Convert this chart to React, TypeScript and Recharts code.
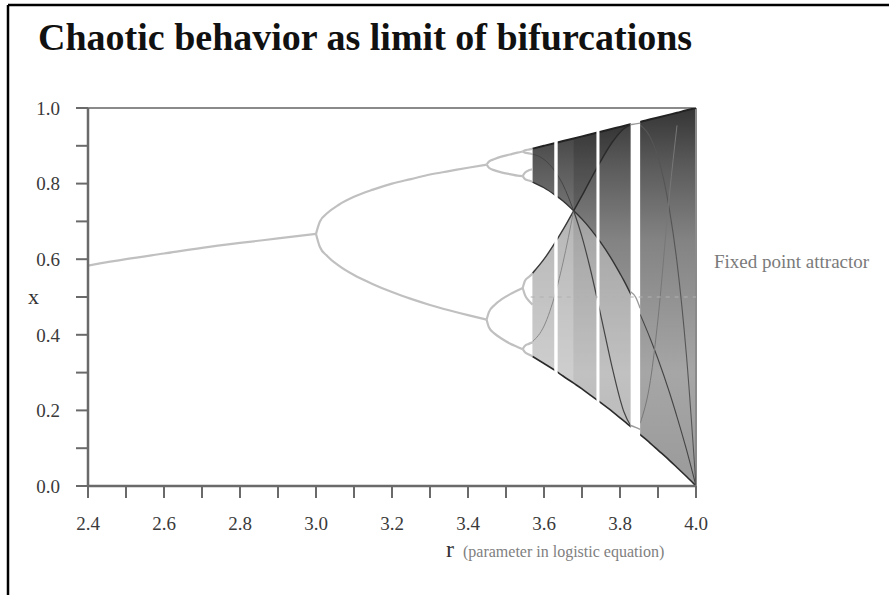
import React from 'react';
import { ComposedChart, Line, Area, XAxis, YAxis, ReferenceLine } from 'recharts';

const SERIF = '"Liberation Serif", "Times New Roman", serif';

// axis ticks (labels only on every second one)
const rTicks = [2.4, 2.5, 2.6, 2.7, 2.8, 2.9, 3.0, 3.1, 3.2, 3.3, 3.4, 3.5, 3.6, 3.7, 3.8, 3.9, 4.0];
const xTicks = [0, 0.1, 0.2, 0.3, 0.4, 0.5, 0.6, 0.7, 0.8, 0.9, 1.0];

// stable fixed point
const p1R = [2.4, 2.5, 2.6, 2.7, 2.8, 2.9, 3.0];
const p1X = [0.583, 0.6, 0.615, 0.63, 0.643, 0.655, 0.667];

// period 2
const p2R = [3.0, 3.01, 3.03, 3.06, 3.1, 3.15, 3.2, 3.25, 3.3, 3.35, 3.4, 3.449];
const p2Hi = [0.667, 0.699, 0.722, 0.744, 0.765, 0.784, 0.8, 0.812, 0.824, 0.833, 0.842, 0.85];
const p2Lo = [0.667, 0.633, 0.608, 0.583, 0.558, 0.534, 0.513, 0.495, 0.479, 0.465, 0.452, 0.44];

// period 4
const p4R = [3.449, 3.455, 3.47, 3.49, 3.51, 3.53, 3.544];
const p4A = [0.85, 0.858, 0.865, 0.872, 0.877, 0.882, 0.885];
const p4B = [0.85, 0.842, 0.835, 0.829, 0.825, 0.821, 0.82];
const p4C = [0.44, 0.46, 0.479, 0.495, 0.507, 0.517, 0.524];
const p4D = [0.44, 0.42, 0.403, 0.389, 0.377, 0.368, 0.362];

// period 8
const p8R = [3.544, 3.55, 3.56, 3.57];
const p8 = [
  [0.885, 0.888, 0.89, 0.892], [0.885, 0.882, 0.88, 0.878],
  [0.82, 0.829, 0.835, 0.838], [0.82, 0.812, 0.808, 0.805],
  [0.524, 0.543, 0.553, 0.562], [0.524, 0.505, 0.49, 0.48],
  [0.362, 0.371, 0.376, 0.38], [0.362, 0.354, 0.348, 0.343],
];

// chaotic region envelope
const envR = [3.57, 3.6, 3.63, 3.65, 3.678, 3.7, 3.72, 3.75, 3.78, 3.8, 3.81, 3.83, 3.853, 3.88, 3.9, 3.93, 3.95, 3.975, 4.0];
const envTop = [0.8925, 0.9, 0.9075, 0.9125, 0.9195, 0.925, 0.93, 0.9375, 0.945, 0.95, 0.9525, 0.9575, 0.963, 0.97, 0.975, 0.9825, 0.9875, 0.994, 1.0];
const envBot = [0.3425, 0.324, 0.305, 0.291, 0.272, 0.257, 0.242, 0.22, 0.197, 0.1805, 0.172, 0.156, 0.136, 0.113, 0.095, 0.068, 0.049, 0.025, 0];

// two-band part, before the bands merge
const earlyR = [3.57, 3.6, 3.63, 3.65, 3.678];
const earlyBot = [0.3425, 0.324, 0.305, 0.291, 0.272];
const earlyIn = [0.563, 0.6, 0.645, 0.678, 0.728]; // top of lower band
const earlyOut = [0.804, 0.789, 0.769, 0.754, 0.728]; // bottom of upper band
const earlyC5 = [0.878, 0.864, 0.831, 0.797, 0.728];
const earlyC6 = [0.382, 0.423, 0.51, 0.591, 0.728];
// white gap between the two bands (starts a hair left of the chaos edge)
const gapR = [3.566, 3.6, 3.63, 3.65, 3.678];

// merged band up to the period-3 window
const midR = [3.678, 3.7, 3.72, 3.75, 3.78, 3.8, 3.81, 3.83];
const midTop = [0.9195, 0.925, 0.93, 0.9375, 0.945, 0.95, 0.9525, 0.9575];
const midBot = [0.272, 0.257, 0.242, 0.22, 0.197, 0.1805, 0.172, 0.156];
const midC3 = [0.728, 0.706, 0.683, 0.643, 0.597, 0.562, 0.544, 0.504];
const midC4 = [0.728, 0.768, 0.806, 0.861, 0.91, 0.935, 0.945, 0.957];
const midC5 = [0.728, 0.659, 0.582, 0.449, 0.311, 0.23, 0.197, 0.156];

// after the period-3 window
const lateR = [3.853, 3.88, 3.9, 3.93, 3.95, 3.975, 4.0];
const lateC3 = [0.454, 0.389, 0.336, 0.248, 0.183, 0.096, 0.0];
const lateC4 = [0.955, 0.922, 0.87, 0.732, 0.592, 0.344, 0.0];
const lateC5R = [3.853, 3.88, 3.9, 3.93, 3.95];
const lateC5 = [0.166, 0.279, 0.442, 0.77, 0.954];

// periodic windows (white stripes)
const windows = [[3.627, 3.636], [3.738, 3.746], [3.828, 3.853]];
const winLo = 0.12;
const winHi = 0.985;

// period 3 orbit inside the big window
const p3R = [3.828, 3.841, 3.853];
const p3 = [[0.956, 0.958, 0.96], [0.514, 0.5, 0.47], [0.16, 0.155, 0.15]];

// dashed line at x = 0.5
const dashR = [3.565, 4.0];
const dashX = [0.5, 0.5];

const pts = (rs: number[], xs: number[]) => rs.map((r, i) => ({ r, v: xs[i] }));
const band = (rs: number[], lo: number[], hi: number[]) => rs.map((r, i) => ({ r, v: [lo[i], hi[i]] }));

const stableLine = (data: any[], key: string) => (
  <Line key={key} data={data} dataKey="v" type="monotone" stroke="#c0c0c0" strokeWidth={2.2}
    dot={false} activeDot={false} isAnimationActive={false} />
);
const curve = (data: any[], key: string, color: string, w: number, z?: number) => (
  <Line key={key} data={data} dataKey="v" type="monotone" stroke={color} strokeWidth={w}
    dot={false} activeDot={false} isAnimationActive={false} zIndex={z} />
);

export default function App() {
  return (
    <div style={{ position: 'relative', width: 889, height: 595, background: '#fff' }}>
      <style>{'body{margin:0}'}</style>
      <ComposedChart width={889} height={595} margin={{ top: 108, right: 193, bottom: 79, left: 28 }}>
        <defs>
          <linearGradient id="chaosFill" x1="0" y1="0" x2="0" y2="1">
            <stop offset="0" stopColor="#353535" />
            <stop offset="0.15" stopColor="#5a5a5a" />
            <stop offset="0.35" stopColor="#838383" />
            <stop offset="0.7" stopColor="#a6a6a6" />
            <stop offset="1" stopColor="#9a9a9a" />
          </linearGradient>
        </defs>
        <XAxis type="number" dataKey="r" domain={[2.4, 4.0]} ticks={rTicks} interval={0} allowDataOverflow
          tickFormatter={(v: number, i: number) => (i % 2 === 0 ? v.toFixed(1) : '')}
          height={30} tickSize={12} tickMargin={19} stroke="#6a6a6a"
          axisLine={{ strokeWidth: 2.5 }} tickLine={{ strokeWidth: 2 }}
          tick={{ fill: '#3a3a3a', fontSize: 19, fontFamily: SERIF }} />
        <YAxis type="number" domain={[0, 1]} ticks={xTicks} interval={0} allowDataOverflow
          tickFormatter={(v: number, i: number) => (i % 2 === 0 ? v.toFixed(1) : '')}
          width={60} tickSize={12} tickMargin={16} stroke="#6a6a6a"
          axisLine={{ strokeWidth: 2.5 }} tickLine={{ strokeWidth: 2 }}
          tick={{ fill: '#3a3a3a', fontSize: 19, fontFamily: SERIF }} />
        <ReferenceLine y={1} stroke="#8a8a8a" strokeWidth={2} />
        <ReferenceLine x={4} stroke="#8a8a8a" strokeWidth={2} />

        {/* chaotic region shading */}
        <Area data={band(envR, envBot, envTop)} dataKey="v" type="monotone" stroke="none" fill="url(#chaosFill)"
          fillOpacity={1} isAnimationActive={false} activeDot={false} />
        <Area data={band(earlyR, earlyBot, earlyIn)} dataKey="v" type="monotone" stroke="none" fill="#fff"
          fillOpacity={0.45} isAnimationActive={false} activeDot={false} />
        <Area data={band(gapR, earlyIn, earlyOut)} dataKey="v" type="monotone" stroke="none" fill="#fff"
          fillOpacity={1} isAnimationActive={false} activeDot={false} />
        <Area data={band(midR, midBot, midC3)} dataKey="v" type="monotone" stroke="none" fill="#fff"
          fillOpacity={0.3} isAnimationActive={false} activeDot={false} />
        <Area data={band(midR, midC4, midTop)} dataKey="v" type="monotone" stroke="none" fill="#000"
          fillOpacity={0.15} isAnimationActive={false} activeDot={false} />

        {/* periodic branches */}
        {stableLine(pts(p1R, p1X), 'p1')}
        {stableLine(pts(p2R, p2Hi), 'p2h')}
        {stableLine(pts(p2R, p2Lo), 'p2l')}
        {stableLine(pts(p4R, p4A), 'p4a')}
        {stableLine(pts(p4R, p4B), 'p4b')}
        {stableLine(pts(p4R, p4C), 'p4c')}
        {stableLine(pts(p4R, p4D), 'p4d')}
        {p8.map((xs, i) => stableLine(pts(p8R, xs), 'p8' + i))}

        {/* dark curves inside the chaotic band */}
        {curve(pts(envR, envTop), 'top', '#222', 2)}
        {curve(pts(envR, envBot), 'bot', '#2a2a2a', 1.6)}
        {curve(pts(earlyR, earlyIn), 'ein', '#3a3a3a', 1.4)}
        {curve(pts(earlyR, earlyOut), 'eout', '#333', 1.4)}
        {curve(pts(earlyR, earlyC5), 'e5', '#444', 1)}
        {curve(pts(earlyR, earlyC6), 'e6', '#888', 1)}
        {curve(pts(midR, midC3), 'm3', '#333', 1.4)}
        {curve(pts(midR, midC4), 'm4', '#2a2a2a', 1.4)}
        {curve(pts(midR, midC5), 'm5', '#444', 1.2)}
        {curve(pts(lateR, lateC3), 'l3', '#444', 1.1)}
        {curve(pts(lateR, lateC4), 'l4', '#555', 1.1)}
        {curve(pts(lateC5R, lateC5), 'l5', '#777', 1)}

        {/* periodic windows */}
        {windows.map((w, i) => (
          <Area key={'w' + i} data={band(w, [winLo, winLo], [winHi, winHi])} dataKey="v" type="linear"
            stroke="none" fill="#fff" fillOpacity={1} isAnimationActive={false} activeDot={false} zIndex={450} />
        ))}
        {p3.map((xs, i) => curve(pts(p3R, xs), 'p3' + i, '#9a9a9a', 1.4, 460))}
        <Line data={pts(dashR, dashX)} dataKey="v" type="linear" stroke="#b0b0b0" strokeWidth={1}
          strokeDasharray="4 5" dot={false} activeDot={false} isAnimationActive={false} zIndex={470} />
      </ComposedChart>

      <svg width={889} height={595} style={{ position: 'absolute', left: 0, top: 0, pointerEvents: 'none' }}>
        <line x1={8} y1={5} x2={889} y2={5} stroke="#000" strokeWidth={2.5} />
        <line x1={8} y1={5} x2={8} y2={595} stroke="#000" strokeWidth={2.5} />
        <text x={38} y={50} fontFamily={SERIF} fontWeight="bold" fontSize={38} fill="#111">
          Chaotic behavior as limit of bifurcations
        </text>
        <text x={28} y={304} fontFamily={SERIF} fontSize={22} fill="#333">x</text>
        <text x={446} y={557} fontFamily={SERIF} fontSize={24} fill="#333">r</text>
        <text x={463} y={557} fontFamily={SERIF} fontSize={16} fill="#808080">(parameter in logistic equation)</text>
        <text x={714} y={268} fontFamily={SERIF} fontSize={19} fill="#7a7a7a">Fixed point attractor</text>
      </svg>
    </div>
  );
}
